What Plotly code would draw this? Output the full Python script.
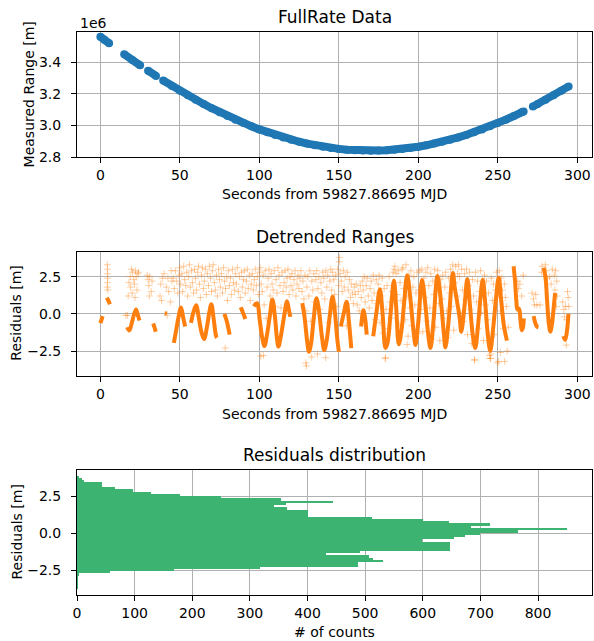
import numpy as np
import plotly.graph_objects as go

# ---------------- data ----------------
# Top panel: measured range (metres), segments separated by None (data gaps)
range_t = [0.0, 2.5, 5.5, None,
           15.0, 20.0, 25.0, None,
           30.0, 35.0, None,
           39.5, 45, 50, 55, 60, 65, 70, 75, 80, 85, 90, 95, 100, 105, 110, 115, 120,
           125, 130, 135, 140, 145, 150, 155, 160, 165, 170, 175, 180, 185, 190, 195,
           200, 205, 210, 215, 220, 225, 230, 235, 240, 245, 250, 255, 260, 265, 266.2, None,
           272.0, 275, 280, 285, 290, 294.5]
range_m = [3.5603e6, 3.5414e6, 3.5188e6, None,
           3.4494e6, 3.4139e6, 3.3793e6, None,
           3.3455e6, 3.3125e6, None,
           3.2836e6, 3.2493e6, 3.2192e6, 3.1899e6, 3.1616e6, 3.1344e6, 3.1082e6, 3.0831e6,
           3.0590e6, 3.0361e6, 3.0144e6, 2.9938e6, 2.9743e6, 2.9563e6, 2.9394e6, 2.9237e6,
           2.9094e6, 2.8963e6, 2.8846e6, 2.8742e6, 2.8652e6, 2.8575e6, 2.8513e6, 2.8463e6,
           2.8428e6, 2.8407e6, 2.8400e6, 2.8407e6, 2.8428e6, 2.8463e6, 2.8513e6, 2.8575e6,
           2.8652e6, 2.8742e6, 2.8846e6, 2.8963e6, 2.9094e6, 2.9237e6, 2.9394e6, 2.9563e6,
           2.9743e6, 2.9938e6, 3.0144e6, 3.0361e6, 3.0590e6, 3.0831e6, 3.0880e6, None,
           3.1185e6, 3.1344e6, 3.1616e6, 3.1899e6, 3.2191e6, 3.2463e6]

# Middle panel: dense residual trace (segments separated by None)
trace_t = [0.0, 0.7, 1.4, None,
           4.0, 5.0, 6.0, None,
           16.8, 18.2, 19.8, 21.0, 22.4, 23.5, 24.6, None,
           33.2, 34.0, 34.8, None,
           40.5, 41.8, None,
           46.2, 47.5, 49.0, 50.7, 52.0, 53.3, None,
           57.0, 58.5, 60.2, 61.8, 63.5, 65.2, 67.0, 68.5, 69.8, 71.2, 72.8, 73.3, None,
           78.0, 79.5, 81.3, None,
           88.3, 89.8, 91.2, None,
           96.5, 98.5, 100.3, 101.8, 103.2, 104.8, 106.5, 108.2, 109.8, 111.0, 112.0, 113.5,
           115.5, 117.4, 118.5, 119.5, None,
           127.0, 128.5, 130.0, 131.2, 132.5, 134.0, 135.9, 137.5, 139.3, 140.8, 142.3, 144.2,
           146.0, 147.5, 149.0, 150.0, None,
           151.2, 153.0, 154.9, 156.3, 157.8, None,
           164.0, 165.4, 166.5, 167.5, None,
           171.6, 173.5, 175.8, 177.5, 179.3, 180.5, 182.5, 184.6, 186.0, 187.7, 189.5, 191.0,
           193.0, 195.0, 196.8, 198.2, 200.0, 202.3, 204.5, 206.0, 207.6, 209.5, 212.0, 214.5,
           216.0, 217.0, 219.0, 221.7, 222.9, 224.3, 226.0, 227.0, 229.0, 230.8, 232.5, 234.3,
           235.8, 237.5, 239.0, 240.5, 242.0, 243.5, 245.2, 247.0, 248.8, 250.5, 252.0, 253.8,
           255.7, None,
           259.9, 260.8, 261.6, 262.3, 263.3, 264.2, 265.0, 265.8, 266.3, None,
           272.5, 273.5, 274.5, 275.5, None,
           278.8, 280.0, 281.0, 282.0, 283.0, 284.0, 285.0, 286.0, None,
           291.2, 292.3, 293.4, 294.4]
trace_r = [-0.62, -0.4, -0.15, None,
           1.08, 0.9, 0.65, None,
           -0.9, -1.12, -0.6, -0.1, 0.3, -0.05, -0.45, None,
           -0.65, -0.9, -1.2, None,
           0.05, 0.02, None,
           -1.95, -1.2, -0.3, 0.42, -0.2, -0.85, None,
           -0.6, 0.1, 0.58, -0.2, -1.2, -1.7, -0.9, 0.1, 0.65, -0.3, -1.5, -1.6, None,
           0.0, -0.5, -1.4, None,
           0.45, 0.05, -0.35, None,
           0.5, 0.72, -0.5, -1.6, -2.17, -1.4, -0.2, 0.97, -0.2, -1.6, -2.2, -1.5,
           -0.2, 0.85, 0.3, -0.2, None,
           0.72, -0.3, -1.8, -2.55, -2.0, -0.5, 1.05, 0.2, -1.5, -2.45, -1.8, -0.2,
           1.15, 0.1, -1.7, -2.55, None,
           -0.85, 0.0, 0.82, -0.5, -2.3, None,
           -0.85, 0.25, -0.3, -1.4, None,
           -1.5, 0.0, 1.65, 0.0, -2.3, -2.0, 0.0, 2.25, 0.5, -2.05, -1.0, 0.7,
           2.6, 1.0, -1.0, -2.1, -0.5, 2.28, 0.5, -1.2, -2.3, -0.5, 2.55, 0.5,
           -1.3, -2.25, -0.5, 2.75, 1.75, 0.85, -0.3, -1.2, 0.5, 2.35, 0.5, -1.5,
           -2.3, -0.8, 1.0, 2.3, 0.8, -1.2, -2.5, -1.0, 1.0, 2.45, 1.0, -0.8,
           -1.8, None,
           3.2, 2.2, 0.9, 0.3, 0.35, -0.4, -1.1, -0.9, -0.3, None,
           -0.15, -0.6, -0.85, -0.9, None,
           3.1, 2.4, 0.8, -0.6, -1.2, -0.7, 0.3, 1.4, None,
           -1.5, -1.75, -1.2, 0.0]

# Middle panel: sparse residual points
cloud_t = [4.3, 4.5, 4.4, 4.6, 4.5, 4.2, 4.7,
           17.5, 18.8, 19.5, 20.3, 21.0, 21.5, 22.0, 22.5, 23.0, 19.0, 20.0, 23.5, 24.0, 21.8, 18.0, 17.0, 16.0,
           29.5, 30.0, 30.5, 31.0, 32.0, 32.5, 30.8,
           37.5, 38.0, 39.0, 40.0, 41.5, 42.5, 43.0, 44.5, 45.0, 44.0, 38.5, 42.0,
           45.8, 46.5, 47.2, 48.0, 48.7, 49.5, 49.9,
           50.5, 51.2, 51.8, 52.4, 53.0, 53.7, 54.3, 54.9,
           55.5, 56.0, 56.6, 57.3, 57.9, 58.6, 59.2, 59.8,
           60.5, 61.0, 61.7, 62.3, 62.9, 63.6, 64.2, 64.8,
           65.4, 66.0, 66.7, 67.3, 68.0, 68.6, 69.3, 69.9,
           70.4, 71.0, 71.7, 72.3, 73.0, 73.6, 74.3, 74.9,
           75.5, 76.1, 76.8, 77.4, 78.1, 78.7, 79.4, 79.9,
           80.5, 81.2, 81.8, 82.4, 83.1, 83.7, 84.4, 84.9,
           85.5, 86.1, 86.8, 87.4, 88.0, 88.7, 89.3, 89.9,
           90.5, 91.1, 91.8, 92.4, 93.0, 93.7, 94.3, 94.9,
           95.5, 96.2, 96.8, 97.4, 98.1, 98.7, 99.3, 99.9,
           100.5, 101.1, 101.8, 102.4, 103.0, 103.7, 104.3, 104.9,
           105.5, 106.1, 106.8, 107.4, 108.0, 108.7, 109.3, 109.9,
           110.5, 111.1, 111.7, 112.4, 113.0, 113.6, 114.3, 114.9,
           115.5, 116.1, 116.8, 117.4, 118.0, 118.7, 119.3, 119.9,
           120.5, 121.1, 121.8, 122.4, 123.0, 123.7, 124.3, 124.9,
           125.5, 126.1, 126.8, 127.4, 128.0, 128.7, 129.3, 129.9,
           130.5, 131.1, 131.7, 132.4, 133.0, 133.6, 134.3, 134.9,
           135.5, 136.1, 136.8, 137.4, 138.0, 138.7, 139.3, 139.9,
           140.5, 141.1, 141.8, 142.4, 143.0, 143.6, 144.3, 144.9,
           145.5, 146.1, 146.8, 147.4, 148.0, 148.7, 149.3, 149.9,
           150.3, 150.2, 150.8, 151.5, 152.1, 152.8, 153.4, 154.0, 154.7,
           155.3, 155.9, 156.6, 157.2, 157.8, 158.5, 159.1, 159.7,
           160.3, 160.9, 161.6, 162.2, 162.8, 163.5, 164.1, 164.7,
           165.3, 165.9, 166.6, 167.2, 167.8, 168.5, 169.1, 169.7,
           170.3, 170.9, 171.6, 172.2, 172.8, 173.5, 174.1, 174.7,
           175.3, 175.9, 176.6, 177.2, 177.8, 178.5, 179.1, 179.7,
           180.3, 180.9, 181.6, 182.2, 182.8, 183.5, 184.1, 184.7,
           185.3, 185.9, 186.6, 187.2, 187.8, 188.5, 189.1, 189.7,
           190.3, 190.9, 191.6, 192.2, 192.8, 193.5, 194.1, 194.7,
           195.3, 195.9, 196.6, 197.2, 197.8, 198.5, 199.1, 199.7,
           200.3, 200.9, 201.6, 202.2, 202.8, 203.5, 204.1, 204.7,
           205.3, 205.9, 206.6, 207.2, 207.8, 208.5, 209.1, 209.7,
           210.3, 210.9, 211.6, 212.2, 212.8, 213.5, 214.1, 214.7,
           215.3, 215.9, 216.6, 217.2, 217.8, 218.5, 219.1, 219.7,
           220.3, 220.9, 221.6, 222.2, 222.8, 223.5, 224.1, 224.7,
           225.3, 225.9, 226.6, 227.2, 227.8, 228.5, 229.1, 229.7,
           230.3, 230.9, 231.6, 232.2, 232.8, 233.5, 234.1, 234.7,
           235.3, 235.9, 236.6, 237.2, 237.8, 238.5, 239.1, 239.7,
           240.3, 240.9, 241.6, 242.2, 242.8, 243.5, 244.1, 244.7,
           245.3, 245.9, 246.6, 247.2, 247.8, 248.5, 249.1, 249.7,
           250.3, 250.9, 251.6, 252.2, 252.8, 253.5, 254.1, 254.7,
           255.3, 255.9, 256.5,
           262.5, 263.0, 263.8, 265.0, 266.0,
           271.5, 272.4, 273.0, 273.8, 274.5, 276.5, 277.5, 277.8,
           279.8, 280.5, 281.2, 282.5, 283.5, 284.2, 285.5, 286.3, 287.0, 285.9, 286.8, 287.3,
           290.8, 291.5, 292.0, 292.6, 293.2, 293.8, 294.2, 294.6, 293.0,
           78.5, 100.9, 102.5, 129.2, 129.6, 132.9, 136.5, 141.7, 179.4, 192.9,
           235.4, 245.2, 245.6, 250.5, 254.3, 251.6]
cloud_r = [3.3, 3.0, 2.7, 2.4, 2.1, 1.8, 1.6,
           1.2, 2.5, 3.0, 2.8, 2.3, 2.0, 2.9, 2.5, 1.6, 1.8, 1.4, 2.7, 2.8, 1.1, 2.1, -0.1, -0.1,
           2.6, 2.3, 1.9, 2.5, 1.5, 2.2, 1.2,
           1.2, 2.0, 2.4, 2.7, 1.8, 2.4, 1.5, 2.9, 2.2, 0.8, 0.9, -0.1,
           2.4, 1.7, 2.9, 2.2, 1.4, 2.6, 3.1,
           2.0, 2.7, 1.5, 3.2, 2.3, 1.9, 2.8, 1.2,
           2.5, 3.3, 1.8, 2.9, 2.1, 1.4, 3.0, 2.4,
           1.6, 2.8, 3.2, 2.0, 1.1, 2.6, 3.1, 1.7,
           2.2, 3.0, 1.3, 2.7, 1.9, 3.2, 2.4, 1.5,
           2.9, 3.3, 2.1, 1.6, 2.6, 1.2, 3.0, 2.3,
           1.8, 2.7, 1.4, 3.1, 2.2, 1.7, 2.5, 0.9,
           2.9, 1.9, 2.4, 1.3, 3.0, 2.1, 1.6, 2.7,
           2.0, 3.1, 1.5, 2.5, 1.1, 2.8, 1.8, 2.3,
           2.9, 1.4, 2.2, 3.0, 1.7, 2.6, 0.9, 2.0,
           2.7, 1.6, 2.3, 3.0, 1.9, 2.5, 1.3, 2.8,
           3.1, 2.0, 1.5, 2.6, 0.6, 2.9, -0.3, 1.8,
           2.4, 3.0, 1.2, 2.7, 2.0, 1.6, 2.9, 0.5,
           2.3, 1.4, 3.1, 2.6, 1.9, 0.4, 2.8, 1.5,
           2.1, 2.9, 1.8, 2.4, 3.0, 1.3, 2.5, 1.9,
           2.7, 1.6, 2.3, 2.9, 1.2, 2.0, 2.6, 1.7,
           2.4, 2.9, 1.5, 2.2, 1.0, 2.6, 0.2, 1.8,
           2.5, 1.2, 2.9, -0.5, 2.2, 1.6, 2.7, 0.8,
           2.3, 2.9, 1.7, 2.5, 0.3, 2.1, 1.4, 2.8,
           2.4, 1.0, 2.9, 1.8, 2.6, -0.6, 2.2, 3.0,
           1.6, 2.8, 2.3, 1.3, 2.6, 0.5, 3.0, 1.9,
           3.8, 3.5, 2.7, 2.2, 1.5, 2.9, 1.8, 2.5, -0.8,
           2.8, 1.6, 2.3, 1.1, 2.0, 1.4, 0.7, 1.8,
           1.3, 2.0, 0.6, 1.5, 0.2, 1.9, 1.1, 2.2,
           1.6, 2.5, 0.8, 1.9, 2.4, 1.2, 0.4, 1.7,
           2.2, 0.9, 2.6, 1.4, -0.4, 2.3, 0.7, 2.0,
           2.6, -0.6, 1.2, 2.4, -1.3, 1.7, -3.0, 0.3,
           1.9, -1.0, 2.5, 0.8, -0.3, 1.5, 2.8, 3.0,
           3.2, 2.7, 1.3, 2.9, -0.7, 2.1, 0.9, 3.0,
           3.1, 1.7, -0.4, 3.3, 1.2, -1.5, 2.6, 0.4,
           2.9, -0.8, 1.8, 2.5, 0.6, 1.4, 2.8, -1.3,
           1.6, 2.9, 0.3, 3.0, -1.2, 2.4, 1.1, 2.8,
           -0.5, 3.1, 1.9, 0.4, 2.7, -1.7, 2.2, 1.3,
           3.0, -0.9, 1.6, 2.9, 0.7, -1.8, 2.3, 1.0,
           2.6, -0.3, 1.8, 2.8, 0.2, -1.6, 2.4, 1.4,
           3.0, 0.5, 3.3, -1.1, 2.1, 3.2, 1.2, 2.7,
           3.3, 2.5, 0.1, 3.0, 1.6, -0.5, 2.7, 1.0,
           3.0, -1.4, 1.9, 2.8, 0.3, -2.0, 2.3, 1.2,
           -3.1, 2.8, 0.8, 2.2, -1.0, 1.5, 2.9, 0.1,
           1.8, -1.8, 2.6, 0.6, 2.2, -0.4, 1.4, -2.8,
           -3.0, 2.4, 0.9, 2.0, -1.4, 1.6, 2.8, -3.3,
           1.3, 2.9, 0.2, 2.4, 1.6, -1.0, 2.0, 1.1,
           0.5, -2.5, -0.9,
           2.2, 1.7, 2.0, 1.2, 2.6,
           1.4, 1.0, 0.6, 1.3, 0.6, 0.6, 2.8, 3.2,
           3.3, 2.9, 2.4, 2.5, 2.0, 3.0, 2.6, 2.9, 2.2, 1.6, 0.5, 1.2,
           0.8, 0.3, -0.2, 0.5, -0.4, 1.5, 1.1, 0.5, -2.1,
           -2.3, -2.85, -2.8, -3.3, -3.5, -2.9, -2.7, -2.95, -2.95, -2.06,
           -3.1, -3.0, -2.7, -3.2, -3.2, -2.6]

# Bottom panel: histogram of residuals (50 bins, bottom to top)
hist_range = [-3.81, 3.88]
hist_counts = [1, 1, 1, 1, 2, 2, 3, 57, 168, 317,
               488, 488, 531, 513, 506, 432, 491, 648, 648, 648,
               648, 598, 655, 673, 699, 765, 851, 684, 716, 645,
               601, 512, 400, 400, 400, 364, 341, 362, 444, 354,
               250, 179, 128, 97, 66, 43, 43, 12, 8, 4]

# ---------------- figure ----------------
W, H = 594, 641
BLUE = "#1f77b4"
ORANGE = "#ff7f0e"
GREEN = "#3cb371"


def py(p):
    return 1 - p / H


def px(p):
    return p / W


fig = go.Figure()

fig.add_trace(go.Scatter(x=range_t, y=range_m, mode="lines+markers",
                         line=dict(color=BLUE, width=8),
                         marker=dict(color=BLUE, size=8),
                         connectgaps=False, xaxis="x", yaxis="y",
                         showlegend=False, hoverinfo="skip"))

fig.add_trace(go.Scatter(x=cloud_t, y=cloud_r, mode="markers",
                         marker=dict(symbol="cross-thin", size=5,
                                     line=dict(color="rgba(255,127,14,0.38)", width=1)),
                         xaxis="x2", yaxis="y2", showlegend=False, hoverinfo="skip"))
fig.add_trace(go.Scatter(x=trace_t, y=trace_r, mode="lines",
                         line=dict(color=ORANGE, width=4, shape="spline", smoothing=1),
                         connectgaps=False, xaxis="x2", yaxis="y2",
                         showlegend=False, hoverinfo="skip"))

nb = len(hist_counts)
edges = np.linspace(hist_range[0], hist_range[1], nb + 1)
centers = (edges[:-1] + edges[1:]) / 2
bw = edges[1] - edges[0]
fig.add_trace(go.Bar(x=hist_counts, y=centers, orientation="h", width=bw,
                     marker=dict(color=GREEN, line=dict(width=0)),
                     xaxis="x3", yaxis="y3", showlegend=False, hoverinfo="skip"))

xdom = [px(77), px(592)]
common = dict(showline=True, mirror=True, linecolor="black", linewidth=1,
              ticks="outside", ticklen=5, tickwidth=1, tickcolor="black",
              showgrid=True, gridcolor="#b0b0b0", gridwidth=1, zeroline=False,
              automargin=False,
              tickfont=dict(size=14, color="black"), fixedrange=True)

fig.update_layout(
    template="none",
    width=W, height=H, margin=dict(l=0, r=0, t=0, b=0, autoexpand=False),
    paper_bgcolor="white", plot_bgcolor="white",
    font=dict(family="DejaVu Sans", size=14, color="black"),
    bargap=0,
    xaxis=dict(domain=xdom, range=[-14.7, 309.2], tickvals=[0, 50, 100, 150, 200, 250, 300],
               anchor="y", **common),
    yaxis=dict(domain=[py(157), py(31.7)], range=[2.8e6, 3.592e6],
               tickvals=[2.8e6, 3.0e6, 3.2e6, 3.4e6], ticktext=["2.8", "3.0", "3.2", "3.4"],
               anchor="x", ticklabelstandoff=7, **common),
    xaxis2=dict(domain=xdom, range=[-14.7, 309.2], tickvals=[0, 50, 100, 150, 200, 250, 300],
                anchor="y2", **common),
    yaxis2=dict(domain=[py(375.7), py(251.7)], range=[-4.16, 4.18],
                tickvals=[-2.5, 0, 2.5], ticktext=["\u22122.5", "0.0", "2.5"],
                anchor="x2", ticklabelstandoff=7, **common),
    xaxis3=dict(domain=xdom, range=[0, 893.6], tickvals=[0, 100, 200, 300, 400, 500, 600, 700, 800],
                anchor="y3", **common),
    yaxis3=dict(domain=[py(595), py(470)], range=[-4.19, 4.26],
                tickvals=[-2.5, 0, 2.5], ticktext=["\u22122.5", "0.0", "2.5"],
                anchor="x3", ticklabelstandoff=7, **common),
)

cx = px((77 + 592) / 2)
ann = [
    dict(text="FullRate Data", x=cx, y=py(17), size=17),
    dict(text="Detrended Ranges", x=cx, y=py(236.5), size=17),
    dict(text="Residuals distribution", x=cx, y=py(455), size=17),
    dict(text="Seconds from 59827.86695 MJD", x=cx, y=py(194), size=14),
    dict(text="Seconds from 59827.86695 MJD", x=cx, y=py(414), size=14),
    dict(text="# of counts", x=cx, y=py(632), size=14),
]
for a in ann:
    fig.add_annotation(text=a["text"], x=a["x"], y=a["y"], xref="paper", yref="paper",
                       xanchor="center", yanchor="middle", showarrow=False,
                       font=dict(size=a["size"], color="black"))
for text, yc, xc in [("Measured Range [m]", 94.4, 29), ("Residuals [m]", 313.7, 16),
                     ("Residuals [m]", 532.5, 16)]:
    fig.add_annotation(text=text, x=px(xc), y=py(yc), xref="paper", yref="paper",
                       xanchor="center", yanchor="middle", textangle=-90, showarrow=False,
                       font=dict(size=14, color="black"))
fig.add_annotation(text="1e6", x=px(78), y=py(23), xref="paper", yref="paper",
                   xanchor="left", yanchor="middle", showarrow=False,
                   font=dict(size=14, color="black"))

fig.write_html("out.html", config={"displayModeBar": False, "staticPlot": True},
               post_script="document.body.style.margin='0px';"
                           "document.body.style.overflow='hidden';")
